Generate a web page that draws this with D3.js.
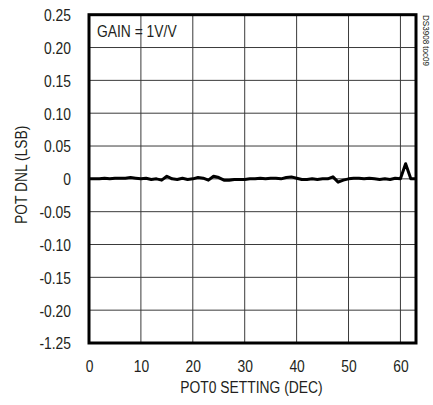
<!DOCTYPE html>
<html>
<head>
<meta charset="utf-8">
<script src="https://cdn.jsdelivr.net/npm/d3@7"></script>
<style>
  body { margin: 0; background: #fff; }
  svg text { font-family: "Liberation Sans", Arial, sans-serif; fill: #231f20; }
</style>
</head>
<body>
<svg id="chart" width="433" height="405"></svg>
<script>
// pot setting codes and measured DNL (LSB)
const codes = d3.range(0, 64)
const dnl = [
  0.000, 0.000, 0.000, 0.001, 0.000, 0.001, 0.001, 0.001, 0.002, 0.001,
  0.000, 0.001, -0.001, 0.000, -0.002, 0.004, 0.000, -0.001, 0.001, -0.001,
  0.000, 0.002, 0.001, -0.002, 0.004, 0.002, -0.002, -0.002, -0.001, -0.001,
  -0.001, 0.000, 0.000, 0.001, 0.000, 0.001, 0.001, 0.000, 0.002, 0.003,
  0.001, -0.001, -0.001, 0.000, -0.001, 0.000, 0.000, 0.003, -0.005, -0.002,
  0.000, 0.001, 0.001, 0.000, 0.001, 0.000, -0.001, 0.000, -0.001, 0.001,
  0.000, 0.023, 0.000, 0.000
]

const xTicks = [0, 10, 20, 30, 40, 50, 60]
const yTicks = [0.25, 0.20, 0.15, 0.10, 0.05, 0, -0.05, -0.10, -0.15, -0.20, -0.25]
// labels as printed on the original (bottom one reads -1.25)
const yTickLabels = ['0.25', '0.20', '0.15', '0.10', '0.05', '0', '-0.05', '-0.10', '-0.15', '-0.20', '-1.25']

const box = { left: 89, right: 416, top: 14.7, bottom: 343 }
const fs = '16.5px'
const sx = 0.84 // squeeze text to look like the narrow face

const svg = d3.select('#chart')

const x = d3.scaleLinear().domain([0, 63]).range([box.left, box.right])
const y = d3.scaleLinear().domain([-0.25, 0.25]).range([box.bottom, box.top])

// grid
const grid = svg.append('g').attr('stroke', '#3a3a3a').attr('stroke-width', 1)
grid.selectAll('line.v')
    .data(xTicks.filter(d => d > 0))
    .join('line')
    .attr('x1', d => x(d)).attr('x2', d => x(d))
    .attr('y1', box.top).attr('y2', box.bottom)
grid.selectAll('line.h')
    .data(yTicks.filter(d => d > -0.25 && d < 0.25))
    .join('line')
    .attr('x1', box.left).attr('x2', box.right)
    .attr('y1', d => y(d)).attr('y2', d => y(d))

// data line
const line = d3.line()
    .x((d, i) => x(codes[i]))
    .y(d => y(d))

svg.append('path')
    .datum(dnl)
    .attr('d', line)
    .attr('fill', 'none')
    .attr('stroke', '#000')
    .attr('stroke-width', 3)
    .attr('stroke-linejoin', 'round')

// frame
svg.append('rect')
    .attr('x', box.left).attr('y', box.top)
    .attr('width', box.right - box.left).attr('height', box.bottom - box.top)
    .attr('fill', 'none').attr('stroke', '#000').attr('stroke-width', 3)

// x axis labels
const xAxis = d3.axisBottom(x).tickValues(xTicks).tickSize(0)
const gx = svg.append('g').attr('transform', `translate(0,${box.bottom})`).call(xAxis)
gx.select('.domain').remove()
gx.selectAll('text')
    .attr('y', 372 - box.bottom).attr('dy', 0)
    .attr('transform', `scale(${sx},1)`)
    .style('font-size', fs).style('font-family', null).style('fill', '#231f20')

// y axis labels
const yAxis = d3.axisLeft(y).tickValues(yTicks).tickSize(0)
    .tickFormat((d, i) => yTickLabels[i])
const gy = svg.append('g').attr('transform', `translate(${box.left},0)`).call(yAxis)
gy.select('.domain').remove()
gy.selectAll('text')
    .attr('x', -18 / sx).attr('dy', '0.36em')
    .attr('transform', `scale(${sx},1)`)
    .style('font-size', fs).style('font-family', null).style('fill', '#231f20')

// titles
svg.append('text')
    .attr('transform', `translate(${(box.left + box.right) / 2 - 1},393) scale(${sx},1)`)
    .attr('text-anchor', 'middle')
    .style('font-size', fs)
    .text('POT0 SETTING (DEC)')

svg.append('text')
    .attr('transform', `translate(27,${y(0) - 4}) rotate(-90) scale(${sx},1)`)
    .attr('text-anchor', 'middle')
    .style('font-size', fs)
    .text('POT DNL (LSB)')

svg.append('text')
    .attr('transform', `translate(97,37) scale(${sx},1)`)
    .style('font-size', fs)
    .text('GAIN = 1V/V')

svg.append('text')
    .attr('transform', `translate(423,15) rotate(90) scale(0.85,1)`)
    .style('font-size', '9.5px')
    .text('DS3908 toc09')
</script>
</body>
</html>
